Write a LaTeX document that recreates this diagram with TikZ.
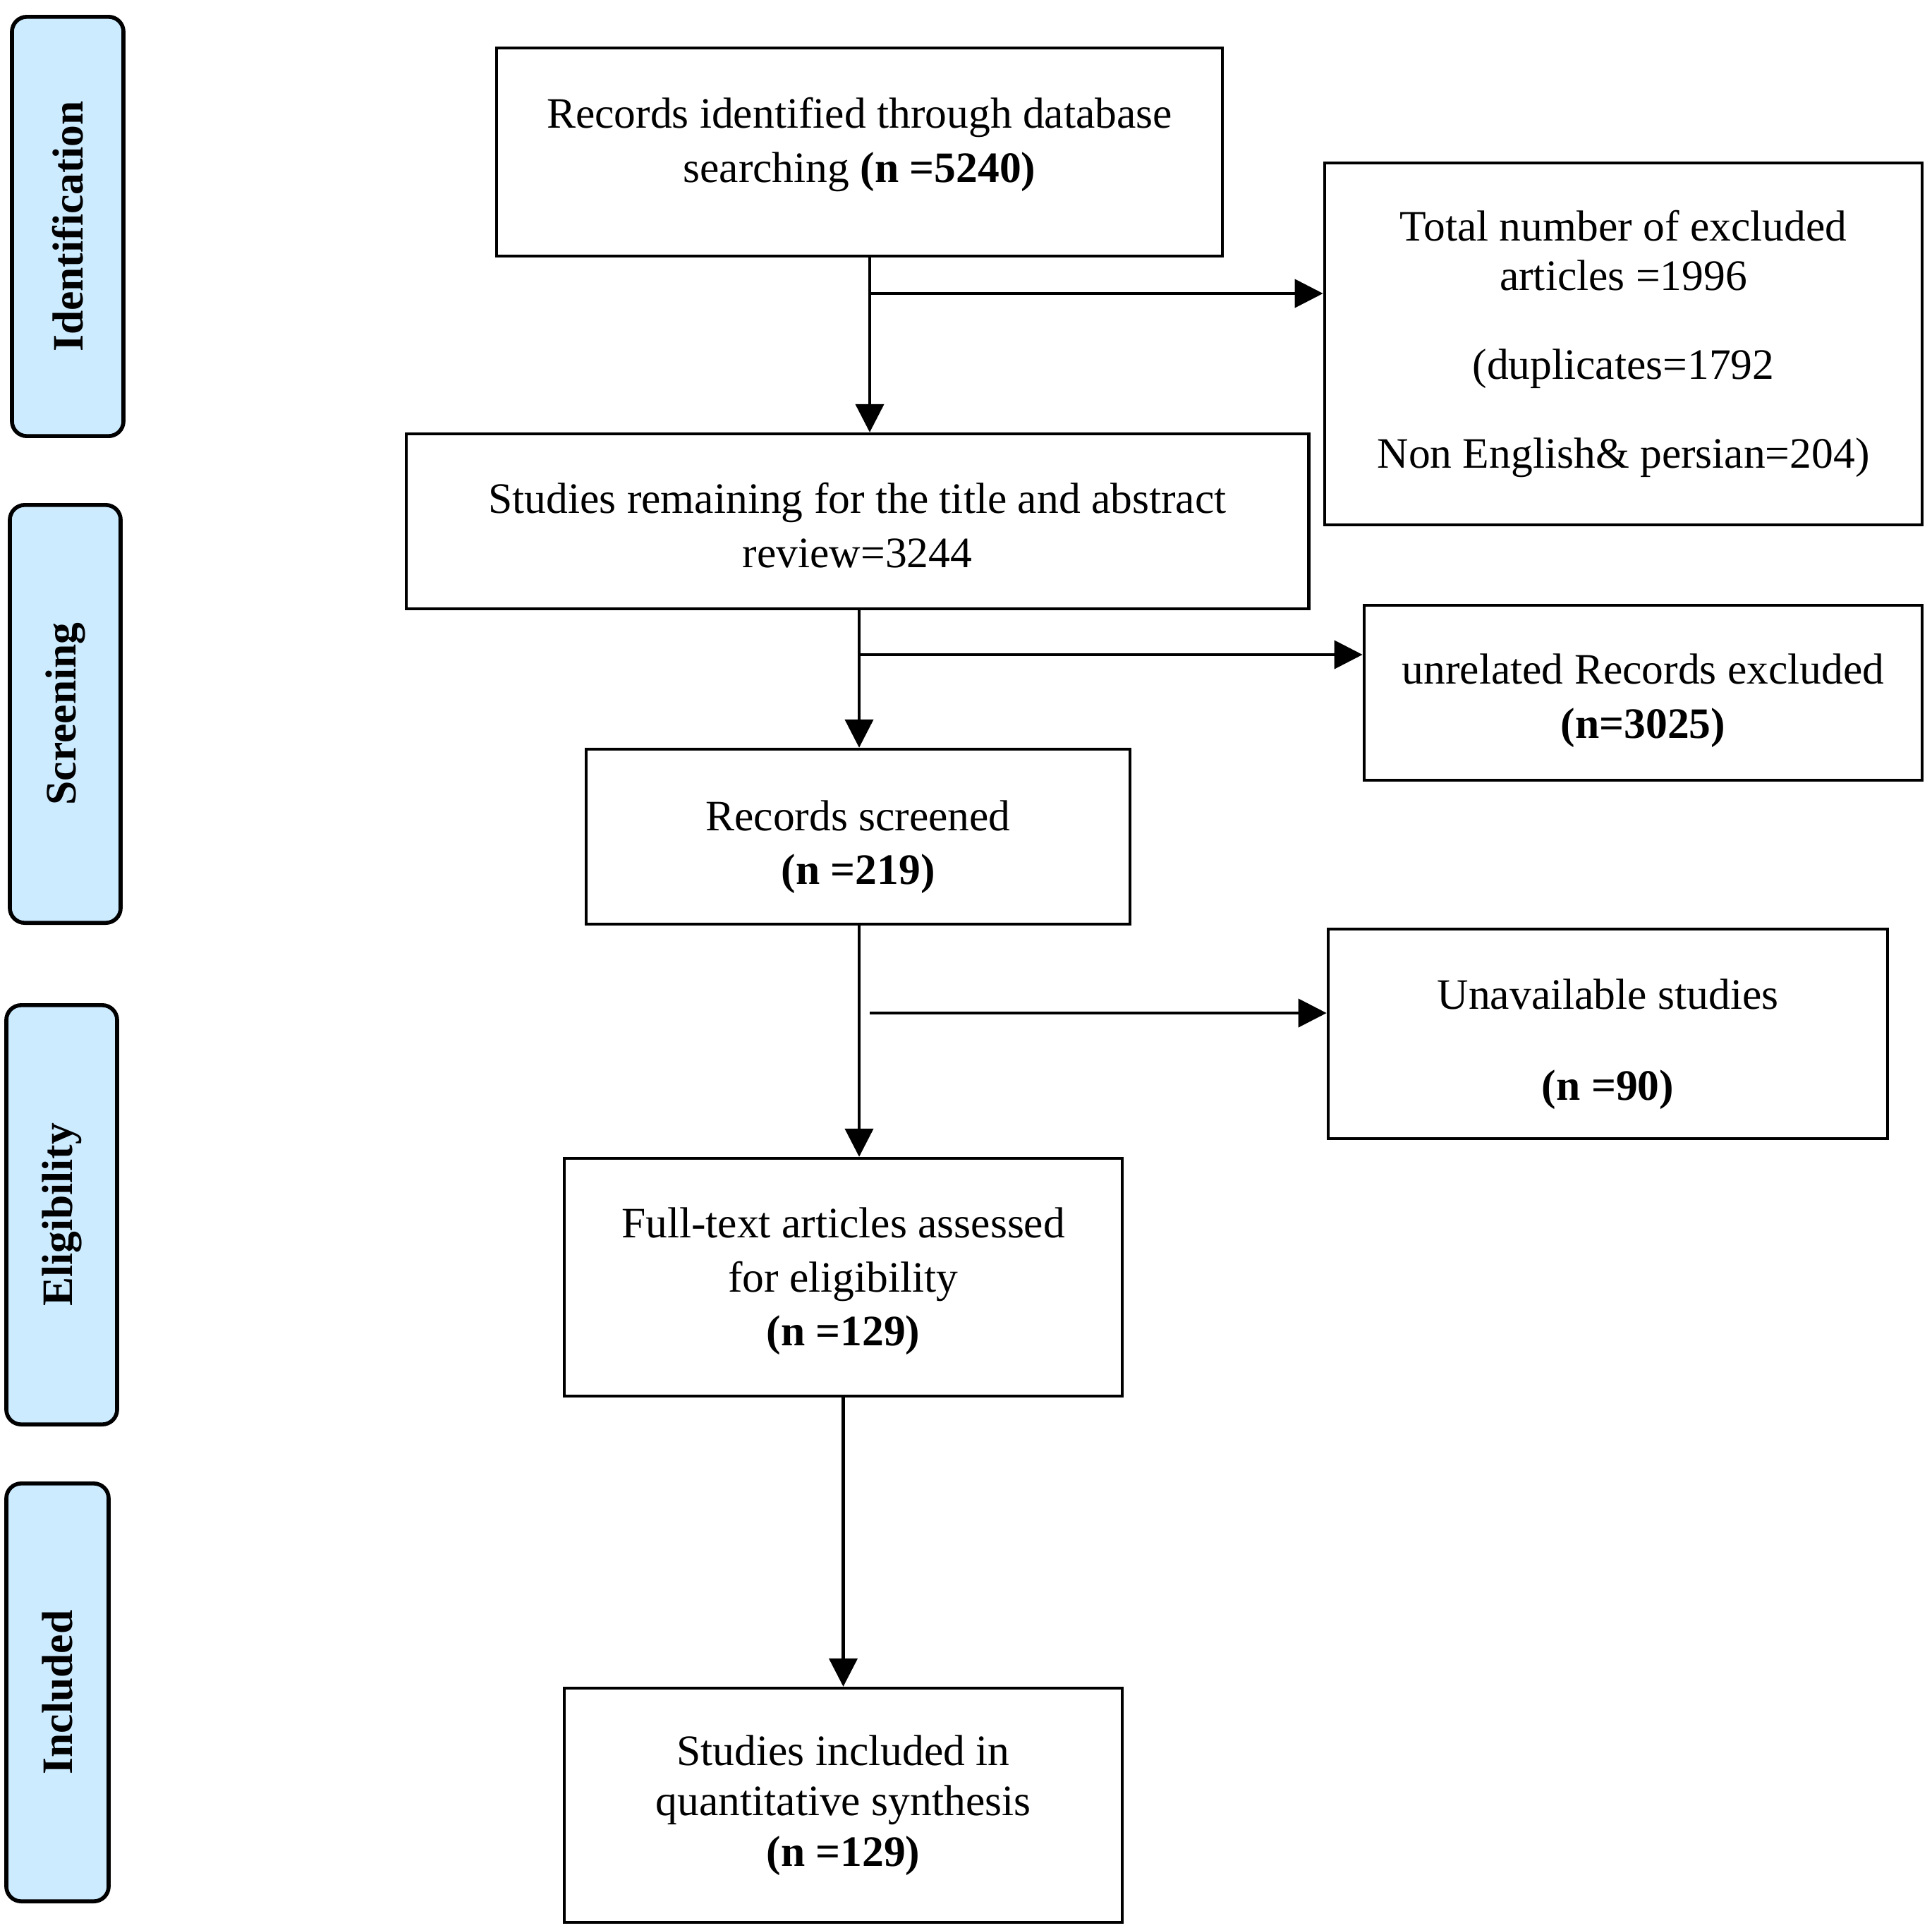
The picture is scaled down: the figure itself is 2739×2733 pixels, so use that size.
\documentclass[tikz,border=0pt]{standalone}
\usepackage{fontspec}
\setmainfont{Liberation Serif}
\usepackage{xcolor}
\usepackage{tikz}
\usetikzlibrary{arrows.meta,positioning}
\definecolor{phaseblue}{HTML}{CCEBFF}
\newcommand{\lowstrut}[1]{\rule{0pt}{#1}}

\begin{document}
\begin{tikzpicture}[
        x=0.01cm, y=-0.01cm,
        flowbox/.style={
          draw=black,
          line width=1.2pt,
          align=center,
          inner sep=0pt,
          font=\fontsize{17.5}{21.8}\selectfont
        },
        phase/.style={
          draw=black,
          line width=1.6pt,
          rounded corners=6pt,
          fill=phaseblue,
          rotate=90,
          inner sep=0pt,
          font=\fontsize{17.5}{21}\selectfont\bfseries
        },
        arrow/.style={-{Triangle[length=4mm, width=4mm]}, line width=1.2pt, draw=black}
      ]
        \useasboundingbox (0,0) rectangle (2739,2733);

        \node[phase, minimum width=5.94cm, minimum height=1.58cm] (ident) at (96,321) {Identification};
        \node[phase, minimum width=5.92cm, minimum height=1.57cm] (screen) at (92.5,1012) {Screening};
        \node[phase, minimum width=5.94cm, minimum height=1.57cm] (elig) at (87.5,1722) {Eligibility};
        \node[phase, minimum width=5.92cm, minimum height=1.45cm] (incl) at (81.5,2399) {Included};

        \node[flowbox, minimum width=10.29cm, minimum height=2.95cm] (rec) at (1218.5,215.5)
          {Records identified through database\\searching \textbf{(n =5240)}\\[-12pt]\mbox{}};
        \node[flowbox, minimum width=8.47cm, minimum height=5.13cm] (excl1) at (2301.5,487.5)
          {Total number of excluded\\[-2pt]articles =1996\\[14pt](duplicates=1792\\[14pt]Non English\& persian=204)};
        \node[flowbox, minimum width=12.79cm, minimum height=2.48cm] (rem) at (1215.5,739)
          {\lowstrut{15.5pt}Studies remaining for the title and abstract\\review=3244};
        \node[flowbox, minimum width=7.91cm, minimum height=2.48cm] (excl2) at (2329.5,982)
          {\lowstrut{18.5pt}unrelated Records excluded\\\textbf{(n=3025)}};
        \node[flowbox, minimum width=7.71cm, minimum height=2.48cm] (scr) at (1216.5,1186)
          {\lowstrut{20.5pt}Records screened\\\textbf{(n =219)}};
        \node[flowbox, minimum width=7.93cm, minimum height=2.97cm] (excl3) at (2279.5,1465.5)
          {\lowstrut{20.5pt}Unavailable studies\\[15pt]\textbf{(n =90)}};
        \node[flowbox, minimum width=7.91cm, minimum height=3.37cm] (full) at (1195.5,1810.5)
          {\lowstrut{15.5pt}Full-text articles assessed\\for eligibility\\\textbf{(n =129)}};
        \node[flowbox, minimum width=7.91cm, minimum height=3.32cm] (inc) at (1195.5,2559)
          {Studies included in\\[-1.5pt]quantitative synthesis\\[-1.5pt]\textbf{(n =129)}};

        \coordinate (j1) at (1233,416);
        \coordinate (j2) at (1218,928);
        \coordinate (j3) at (1233,1436);

        \draw[arrow] (rec.south -| j1) -- (rem.north -| j1);
        \draw[arrow] (j1) -- (excl1.west |- j1);
        \draw[arrow] (rem.south -| j2) -- (scr.north -| j2);
        \draw[arrow] (j2) -- (excl2.west |- j2);
        \draw[arrow] (scr.south -| j2) -- (full.north -| j2);
        \draw[arrow] (j3) -- (excl3.west |- j3);
        \draw[arrow] (full) -- (inc);
      \end{tikzpicture}
\end{document}
